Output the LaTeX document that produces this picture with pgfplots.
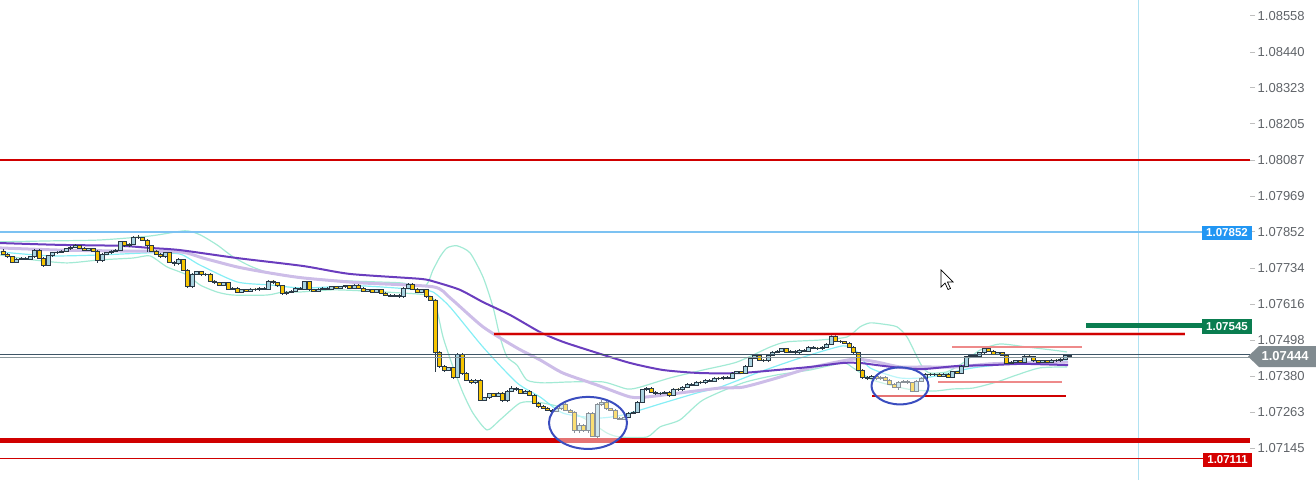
\documentclass[border=0pt]{standalone}
\usepackage{fontspec}
\setmainfont{Liberation Sans}
\usepackage{pgfplots}
\pgfplotsset{compat=1.18}
\usepackage{pgfplotstable}

\definecolor{cdark}{HTML}{2B3A46}
\definecolor{cbull}{HTML}{A9D3E0}
\definecolor{cbear}{HTML}{F6C400}
\definecolor{mapurple}{HTML}{6A3DBE}
\definecolor{malav}{HTML}{CDBDE8}
\definecolor{macyan}{HTML}{86EEF5}
\definecolor{band}{HTML}{A3EAD5}
\definecolor{lred}{HTML}{D00000}
\definecolor{pred}{HTML}{EE8A8A}
\definecolor{lblue}{HTML}{7CC2F2}
\definecolor{boxblue}{HTML}{2196F3}
\definecolor{boxgreen}{HTML}{0A7D50}
\definecolor{boxred}{HTML}{D50000}
\definecolor{boxgray}{HTML}{818B90}
\definecolor{curdark}{HTML}{3E5566}
\definecolor{curgray}{HTML}{8A979C}
\definecolor{vline}{HTML}{B0E2F2}
\definecolor{ellblue}{HTML}{3A4DBF}
\definecolor{tickgray}{HTML}{5F6368}

\pgfplotsset{
  base/.style={width=1250pt, height=480pt, scale only axis, xmin=0, xmax=1250,
    at={(0pt,0pt)}, anchor=south west},
}

\pgfplotstableread{
o h l c
1.07789 1.07795 1.07775 1.07779
1.07779 1.07783 1.07766 1.07770
1.07770 1.07773 1.07749 1.07753
1.07753 1.07766 1.07750 1.07763
1.07763 1.07769 1.07760 1.07766
1.07766 1.07769 1.07760 1.07763
1.07763 1.07773 1.07760 1.07770
1.07770 1.07796 1.07767 1.07792
1.07792 1.07796 1.07763 1.07766
1.07766 1.07769 1.07737 1.07743
1.07743 1.07776 1.07740 1.07773
1.07773 1.07786 1.07770 1.07783
1.07783 1.07789 1.07780 1.07786
1.07786 1.07792 1.07783 1.07789
1.07789 1.07799 1.07786 1.07796
1.07796 1.07806 1.07793 1.07802
1.07802 1.07812 1.07799 1.07806
1.07806 1.07809 1.07796 1.07799
1.07799 1.07802 1.07789 1.07792
1.07792 1.07799 1.07789 1.07796
1.07796 1.07799 1.07786 1.07789
1.07789 1.07792 1.07750 1.07757
1.07757 1.07783 1.07753 1.07779
1.07779 1.07786 1.07776 1.07783
1.07783 1.07792 1.07779 1.07789
1.07789 1.07796 1.07786 1.07792
1.07792 1.07822 1.07789 1.07819
1.07819 1.07822 1.07802 1.07806
1.07806 1.07815 1.07802 1.07812
1.07812 1.07838 1.07809 1.07835
1.07835 1.07840 1.07828 1.07832
1.07832 1.07835 1.07822 1.07825
1.07825 1.07828 1.07786 1.07806
1.07806 1.07809 1.07786 1.07789
1.07789 1.07792 1.07776 1.07779
1.07779 1.07783 1.07766 1.07770
1.07770 1.07786 1.07766 1.07783
1.07783 1.07786 1.07750 1.07753
1.07753 1.07756 1.07740 1.07747
1.07747 1.07766 1.07743 1.07760
1.07760 1.07763 1.07724 1.07727
1.07727 1.07730 1.07668 1.07672
1.07672 1.07717 1.07668 1.07714
1.07714 1.07724 1.07711 1.07721
1.07721 1.07724 1.07707 1.07711
1.07711 1.07717 1.07707 1.07714
1.07714 1.07717 1.07688 1.07691
1.07691 1.07694 1.07681 1.07685
1.07685 1.07688 1.07675 1.07678
1.07678 1.07688 1.07675 1.07685
1.07685 1.07688 1.07662 1.07665
1.07665 1.07672 1.07662 1.07668
1.07668 1.07672 1.07652 1.07655
1.07655 1.07665 1.07652 1.07662
1.07662 1.07665 1.07655 1.07658
1.07658 1.07668 1.07655 1.07665
1.07665 1.07668 1.07658 1.07662
1.07662 1.07672 1.07658 1.07668
1.07668 1.07672 1.07662 1.07665
1.07665 1.07694 1.07662 1.07691
1.07691 1.07694 1.07681 1.07685
1.07685 1.07688 1.07672 1.07675
1.07675 1.07678 1.07645 1.07649
1.07649 1.07658 1.07645 1.07655
1.07655 1.07662 1.07652 1.07658
1.07658 1.07672 1.07655 1.07668
1.07668 1.07672 1.07662 1.07665
1.07665 1.07691 1.07662 1.07688
1.07688 1.07691 1.07658 1.07662
1.07662 1.07665 1.07655 1.07658
1.07658 1.07668 1.07655 1.07665
1.07665 1.07672 1.07662 1.07668
1.07668 1.07672 1.07662 1.07665
1.07665 1.07675 1.07662 1.07672
1.07672 1.07675 1.07665 1.07668
1.07668 1.07675 1.07665 1.07672
1.07672 1.07678 1.07668 1.07675
1.07675 1.07678 1.07665 1.07668
1.07668 1.07681 1.07665 1.07678
1.07678 1.07681 1.07665 1.07668
1.07668 1.07672 1.07655 1.07658
1.07658 1.07665 1.07655 1.07662
1.07662 1.07665 1.07652 1.07655
1.07655 1.07665 1.07652 1.07662
1.07662 1.07665 1.07649 1.07652
1.07652 1.07655 1.07642 1.07645
1.07645 1.07649 1.07639 1.07642
1.07642 1.07649 1.07639 1.07645
1.07645 1.07649 1.07636 1.07639
1.07639 1.07672 1.07636 1.07668
1.07668 1.07685 1.07665 1.07681
1.07681 1.07685 1.07662 1.07665
1.07665 1.07668 1.07652 1.07655
1.07655 1.07665 1.07652 1.07662
1.07662 1.07665 1.07636 1.07639
1.07639 1.07642 1.07626 1.07629
1.07629 1.07632 1.07394 1.07459
1.07459 1.07462 1.07407 1.07413
1.07413 1.07417 1.07394 1.07400
1.07400 1.07410 1.07397 1.07407
1.07407 1.07410 1.07371 1.07377
1.07377 1.07456 1.07374 1.07452
1.07452 1.07456 1.07384 1.07390
1.07390 1.07394 1.07364 1.07367
1.07367 1.07371 1.07354 1.07358
1.07358 1.07371 1.07354 1.07367
1.07367 1.07371 1.07299 1.07302
1.07302 1.07312 1.07299 1.07309
1.07309 1.07325 1.07305 1.07322
1.07322 1.07325 1.07312 1.07315
1.07315 1.07328 1.07312 1.07325
1.07325 1.07328 1.07295 1.07299
1.07299 1.07335 1.07295 1.07331
1.07331 1.07348 1.07328 1.07341
1.07341 1.07344 1.07331 1.07335
1.07335 1.07338 1.07322 1.07325
1.07325 1.07335 1.07322 1.07331
1.07331 1.07335 1.07315 1.07318
1.07318 1.07322 1.07289 1.07292
1.07292 1.07295 1.07276 1.07282
1.07282 1.07286 1.07273 1.07276
1.07276 1.07279 1.07266 1.07269
1.07269 1.07273 1.07263 1.07266
1.07266 1.07276 1.07263 1.07273
1.07273 1.07292 1.07269 1.07289
1.07289 1.07292 1.07266 1.07269
1.07269 1.07273 1.07259 1.07263
1.07263 1.07266 1.07194 1.07201
1.07201 1.07227 1.07194 1.07220
1.07220 1.07224 1.07197 1.07201
1.07201 1.07263 1.07194 1.07259
1.07259 1.07263 1.07181 1.07184
1.07184 1.07292 1.07178 1.07286
1.07286 1.07302 1.07282 1.07295
1.07295 1.07299 1.07269 1.07273
1.07273 1.07276 1.07266 1.07269
1.07269 1.07273 1.07240 1.07243
1.07243 1.07246 1.07237 1.07240
1.07240 1.07250 1.07237 1.07246
1.07246 1.07263 1.07243 1.07259
1.07259 1.07266 1.07256 1.07263
1.07263 1.07299 1.07259 1.07295
1.07295 1.07338 1.07292 1.07335
1.07335 1.07344 1.07331 1.07341
1.07341 1.07344 1.07325 1.07328
1.07328 1.07331 1.07318 1.07322
1.07322 1.07328 1.07318 1.07325
1.07325 1.07331 1.07322 1.07328
1.07328 1.07331 1.07312 1.07318
1.07318 1.07341 1.07315 1.07338
1.07338 1.07341 1.07331 1.07335
1.07335 1.07348 1.07331 1.07344
1.07344 1.07358 1.07341 1.07354
1.07354 1.07358 1.07348 1.07351
1.07351 1.07364 1.07348 1.07361
1.07361 1.07364 1.07354 1.07358
1.07358 1.07371 1.07354 1.07367
1.07367 1.07371 1.07361 1.07364
1.07364 1.07377 1.07361 1.07374
1.07374 1.07377 1.07367 1.07371
1.07371 1.07380 1.07367 1.07377
1.07377 1.07380 1.07371 1.07374
1.07374 1.07394 1.07371 1.07390
1.07390 1.07397 1.07387 1.07394
1.07394 1.07397 1.07387 1.07390
1.07390 1.07417 1.07387 1.07413
1.07413 1.07443 1.07410 1.07439
1.07439 1.07452 1.07436 1.07449
1.07449 1.07452 1.07430 1.07433
1.07433 1.07436 1.07426 1.07430
1.07430 1.07452 1.07426 1.07449
1.07449 1.07462 1.07446 1.07459
1.07459 1.07465 1.07456 1.07462
1.07462 1.07472 1.07459 1.07469
1.07469 1.07472 1.07456 1.07459
1.07459 1.07465 1.07456 1.07462
1.07462 1.07465 1.07452 1.07456
1.07456 1.07469 1.07452 1.07465
1.07465 1.07469 1.07459 1.07462
1.07462 1.07478 1.07459 1.07475
1.07475 1.07478 1.07469 1.07472
1.07472 1.07475 1.07466 1.07470
1.07470 1.07478 1.07466 1.07475
1.07475 1.07488 1.07472 1.07485
1.07485 1.07515 1.07482 1.07511
1.07511 1.07515 1.07492 1.07495
1.07495 1.07498 1.07488 1.07492
1.07492 1.07495 1.07485 1.07488
1.07488 1.07492 1.07472 1.07475
1.07475 1.07478 1.07452 1.07456
1.07456 1.07459 1.07397 1.07400
1.07400 1.07403 1.07371 1.07377
1.07377 1.07380 1.07367 1.07374
1.07374 1.07384 1.07371 1.07380
1.07380 1.07384 1.07367 1.07371
1.07371 1.07380 1.07367 1.07377
1.07377 1.07380 1.07364 1.07367
1.07367 1.07371 1.07351 1.07354
1.07354 1.07358 1.07341 1.07344
1.07344 1.07364 1.07335 1.07361
1.07361 1.07367 1.07358 1.07364
1.07364 1.07367 1.07354 1.07358
1.07358 1.07361 1.07328 1.07331
1.07331 1.07367 1.07328 1.07364
1.07364 1.07377 1.07361 1.07374
1.07374 1.07390 1.07371 1.07387
1.07387 1.07390 1.07380 1.07384
1.07384 1.07390 1.07380 1.07387
1.07387 1.07390 1.07377 1.07380
1.07380 1.07390 1.07377 1.07387
1.07387 1.07390 1.07374 1.07377
1.07377 1.07397 1.07374 1.07394
1.07394 1.07397 1.07387 1.07390
1.07390 1.07417 1.07387 1.07413
1.07413 1.07446 1.07410 1.07443
1.07443 1.07452 1.07439 1.07449
1.07449 1.07452 1.07443 1.07446
1.07446 1.07459 1.07443 1.07456
1.07456 1.07472 1.07452 1.07469
1.07469 1.07472 1.07459 1.07462
1.07462 1.07465 1.07449 1.07452
1.07452 1.07459 1.07449 1.07456
1.07456 1.07459 1.07446 1.07449
1.07449 1.07452 1.07420 1.07423
1.07423 1.07430 1.07420 1.07426
1.07426 1.07433 1.07423 1.07430
1.07430 1.07433 1.07423 1.07426
1.07426 1.07449 1.07423 1.07446
1.07446 1.07449 1.07439 1.07443
1.07443 1.07446 1.07426 1.07430
1.07430 1.07433 1.07423 1.07426
1.07426 1.07433 1.07423 1.07430
1.07430 1.07433 1.07423 1.07426
1.07426 1.07436 1.07423 1.07433
1.07433 1.07436 1.07426 1.07430
1.07430 1.07439 1.07426 1.07436
1.07436 1.07452 1.07433 1.07449
1.07449 1.07452 1.07440 1.07444
}\candles

\begin{document}
\begin{tikzpicture}
\path[use as bounding box] (0pt,0pt) rectangle (1316pt,480pt);

% ---------- axis A: bands, moving averages, wicks, price scale ----------
\begin{axis}[base, ymin=1.070404, ymax=1.086095,
  axis line style={draw=none}, xtick=\empty,
  ytick={1.07145,1.07263,1.07380,1.07498,1.07616,1.07734,1.07852,1.07969,1.08087,1.08205,1.08323,1.08440,1.08558},
  yticklabels={1.07145,1.07263,1.07380,1.07498,1.07616,1.07734,1.07852,1.07969,1.08087,1.08205,1.08323,1.08440,1.08558},
  ytick pos=right, yticklabel pos=right, tick align=outside, major tick length=5pt,
  tick style={draw=black!25, line width=0.6pt},
  yticklabel style={font=\fontsize{13}{15}\selectfont, text=tickgray, inner sep=2.5pt}]
\addplot[band, line width=1.2pt, smooth, tension=0.4] coordinates {
(0,1.07819) (50,1.07822) (100,1.07825) (150,1.07838) (185,1.07855) (200,1.07842) (217,1.07809) (233,1.07770) (250,1.07740) (270,1.07717) (300,1.07701) (350,1.07691) (400,1.07685) (425,1.07675) (433,1.07727) (440,1.07770) (447,1.07799) (457,1.07806) (470,1.07783) (483,1.07704) (493,1.07606) (500,1.07508) (507,1.07443) (517,1.07416) (527,1.07367) (543,1.07358) (570,1.07361) (603,1.07361) (627,1.07338) (640,1.07344) (670,1.07374) (703,1.07400) (737,1.07426) (770,1.07475) (787,1.07492) (820,1.07498) (847,1.07508) (860,1.07541) (870,1.07554) (883,1.07550) (897,1.07541) (907,1.07508) (917,1.07443) (923,1.07407) (930,1.07390) (947,1.07394) (963,1.07423) (980,1.07465) (1000,1.07485) (1027,1.07475) (1053,1.07465) (1067,1.07459)};
\addplot[band, line width=1.2pt, smooth, tension=0.4] coordinates {
(0,1.07776) (33,1.07760) (67,1.07750) (100,1.07760) (133,1.07766) (150,1.07773) (167,1.07737) (187,1.07711) (200,1.07678) (217,1.07655) (233,1.07645) (267,1.07645) (283,1.07655) (300,1.07655) (333,1.07662) (367,1.07658) (400,1.07652) (427,1.07645) (435,1.07622) (443,1.07508) (453,1.07410) (463,1.07325) (473,1.07259) (487,1.07204) (500,1.07237) (520,1.07292) (537,1.07295) (560,1.07279) (587,1.07237) (607,1.07194) (620,1.07181) (647,1.07181) (660,1.07214) (680,1.07237) (703,1.07302) (743,1.07358) (777,1.07384) (810,1.07400) (843,1.07423) (853,1.07407) (873,1.07367) (907,1.07338) (933,1.07331) (953,1.07338) (973,1.07341) (997,1.07361) (1017,1.07384) (1040,1.07407) (1067,1.07410)};
\addplot[macyan, line width=1.2pt, smooth, tension=0.4] coordinates {
(0,1.07786) (50,1.07773) (100,1.07776) (150,1.07783) (180,1.07779) (200,1.07743) (237,1.07688) (270,1.07678) (303,1.07668) (360,1.07675) (420,1.07662) (433,1.07655) (450,1.07606) (483,1.07475) (517,1.07358) (540,1.07312) (563,1.07259) (597,1.07243) (623,1.07253) (663,1.07292) (697,1.07325) (720,1.07344) (760,1.07394) (800,1.07439) (843,1.07479) (857,1.07459) (870,1.07407) (900,1.07374) (930,1.07377) (973,1.07407) (1020,1.07423) (1067,1.07433)};
\addplot[malav, line width=3pt, smooth, tension=0.4] coordinates {
(0,1.07799) (60,1.07792) (120,1.07789) (180,1.07786) (203,1.07766) (237,1.07737) (270,1.07717) (303,1.07701) (360,1.07685) (433,1.07672) (450,1.07636) (483,1.07541) (517,1.07472) (540,1.07433) (563,1.07390) (597,1.07351) (630,1.07312) (647,1.07312) (680,1.07325) (720,1.07341) (743,1.07344) (777,1.07374) (810,1.07407) (843,1.07430) (857,1.07436) (877,1.07426) (900,1.07410) (923,1.07410) (957,1.07410) (990,1.07420) (1023,1.07423) (1068,1.07426)};
\addplot[mapurple, line width=2pt, smooth, tension=0.4] coordinates {
(0,1.07815) (60,1.07809) (120,1.07806) (150,1.07799) (180,1.07792) (237,1.07766) (303,1.07740) (350,1.07714) (420,1.07698) (435,1.07688) (460,1.07662) (483,1.07622) (510,1.07580) (540,1.07524) (563,1.07492) (597,1.07456) (630,1.07423) (663,1.07400) (700,1.07390) (740,1.07390) (777,1.07400) (810,1.07410) (843,1.07423) (860,1.07423) (877,1.07416) (900,1.07407) (923,1.07403) (957,1.07413) (990,1.07416) (1023,1.07420) (1068,1.07416)};
% wicks
\addplot[draw=none, mark=none, error bars/.cd, y dir=plus, y explicit, error mark=none,
  error bar style={cdark, line width=0.8pt}]
  table[x expr=3+4.5*\coordindex, y=l, y error plus expr=\thisrow{h}-\thisrow{l}] {\candles};
\end{axis}

% ---------- axis B: candle bodies (stacked bars, prices shifted by 1.07) ----------
\begin{axis}[base, hide axis, ymin=0.000404, ymax=0.016095, ybar stacked, bar width=3.9pt]
\addplot[draw=none, fill=none] table[x expr=3+4.5*\coordindex, y expr={min(\thisrow{o},\thisrow{c})-1.07}] {\candles};
\addplot[draw=cdark, fill=cbull, line width=0.8pt] table[x expr=3+4.5*\coordindex, y expr={max(\thisrow{c}-\thisrow{o},0)}] {\candles};
\addplot[draw=cdark, fill=cbear, line width=0.8pt] table[x expr=3+4.5*\coordindex, y expr={max(\thisrow{o}-\thisrow{c},0)}] {\candles};
\end{axis}

% ---------- axis C: levels and annotations ----------
\begin{axis}[base, hide axis, ymin=1.070404, ymax=1.086095]
\addplot[vline, line width=1pt] coordinates {(1138,1.070404) (1138,1.086095)};
\addplot[lred, line width=1.6pt] coordinates {(0,1.08087) (1250,1.08087)};
\addplot[lblue, line width=1.8pt] coordinates {(0,1.07852) (1202,1.07852)};
\addplot[pred, line width=3.5pt, opacity=0.5] coordinates {(494,1.07518) (1185,1.07518)};
\addplot[lred, line width=2pt] coordinates {(494,1.07518) (1185,1.07518)};
\addplot[boxgreen, line width=4.5pt] coordinates {(1086,1.07545) (1202,1.07545)};
\addplot[pred, line width=1.3pt] coordinates {(952,1.07475) (1082,1.07475)};
\addplot[curdark, line width=1.1pt] coordinates {(0,1.07451) (1250,1.07451)};
\addplot[curgray, line width=1.1pt] coordinates {(0,1.07442) (1250,1.07442)};
\addplot[pred, line width=1.3pt] coordinates {(938,1.07361) (1062,1.07361)};
\addplot[lred, line width=2pt] coordinates {(872,1.07315) (1066,1.07315)};
\addplot[lred, line width=5pt] coordinates {(0,1.07168) (1250,1.07168)};
\addplot[lred, line width=1pt] coordinates {(0,1.07111) (1203,1.07111)};
\draw[ellblue, line width=2pt, fill=white, fill opacity=0.45] (axis cs:588,1.07227) ellipse [x radius=39pt, y radius=26pt];
\draw[ellblue, line width=2pt, fill=white, fill opacity=0.45] (axis cs:900,1.07348) ellipse [x radius=28.5pt, y radius=18.5pt];
\end{axis}

% ---------- price tags ----------
\node[fill=boxblue, text=white, font=\bfseries\fontsize{11.5}{12}\selectfont, minimum width=50pt, minimum height=14.5pt, inner sep=0pt] at (1227pt,247pt) {1.07852};
\node[fill=boxgreen, text=white, font=\bfseries\fontsize{11.5}{12}\selectfont, minimum width=50pt, minimum height=15pt, inner sep=0pt] at (1227pt,153.3pt) {1.07545};
\node[fill=boxred, text=white, font=\bfseries\fontsize{11.5}{12}\selectfont, minimum width=49pt, minimum height=14.5pt, inner sep=0pt] at (1227.5pt,20pt) {1.07111};
\fill[boxgray] (1248pt,123.5pt) -- (1259pt,134pt) -- (1316pt,134pt) -- (1316pt,113pt) -- (1259pt,113pt) -- cycle;
\node[text=white, font=\bfseries\fontsize{13}{14}\selectfont, inner sep=0pt] at (1285pt,123.5pt) {1.07444};
% mouse cursor
\draw[fill=white, draw=black, line width=0.7pt, line join=miter] (941pt,210pt) -- (941pt,193pt) -- (945pt,197pt) -- (948pt,190.5pt) -- (950.5pt,191.5pt) -- (947.5pt,198pt) -- (953pt,198pt) -- cycle;
\end{tikzpicture}
\end{document}
